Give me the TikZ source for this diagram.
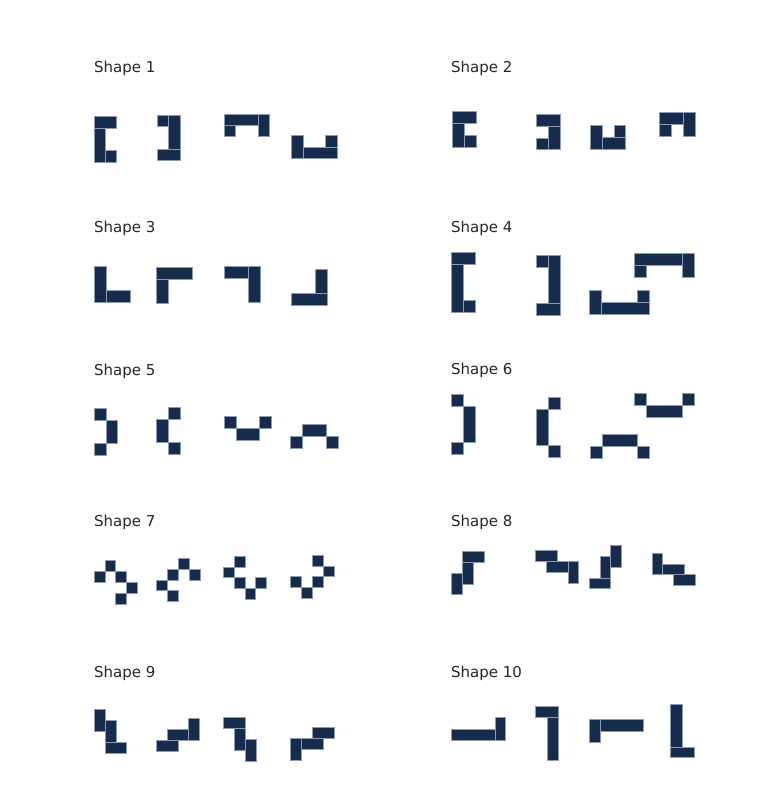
\documentclass[tikz,border=0pt]{standalone}
\usepackage{fontspec}
\setmainfont{DejaVu Sans}
\definecolor{navy}{RGB}{23,43,77}
\definecolor{edgec}{RGB}{140,155,180}
\newcommand\blk[4]{\filldraw[piece] (#1,#2) rectangle ++(#3,#4);}
\newcommand\sq[2]{\filldraw[piece] (#1,#2) rectangle ++(1,1);}
\begin{document}
\begin{tikzpicture}[x=1pt,y=-1pt,
  piece/.style={fill=navy,draw=edgec,line width=0.5pt},
  lbl/.style={anchor=base west,inner sep=0pt,font=\fontsize{15pt}{18pt}\selectfont,text=black!85}]
\useasboundingbox[fill=white] (0,0) rectangle (775,811);
% labels
\node[lbl] (l1) at (94,72) {Shape 1};
\node[lbl] (l2) at (451,72) {Shape 2};
\node[lbl] (l3) at (94,232) {Shape 3};
\node[lbl] (l4) at (451,232) {Shape 4};
\node[lbl] (l5) at (94,375) {Shape 5};
\node[lbl] (l6) at (451,374) {Shape 6};
\node[lbl] (l7) at (94,526) {Shape 7};
\node[lbl] (l8) at (451,526) {Shape 8};
\node[lbl] (l9) at (94,677) {Shape 9};
\node[lbl] (l10) at (451,677) {Shape 10};
% Shape 1
\begin{scope}[shift={(94pt,-116.7pt)},x=11.3pt,y=-11.3pt]
\blk{0}{0}{2}{1}\blk{0}{1}{1}{3}\blk{1}{3}{1}{1}
\end{scope}
\begin{scope}[shift={(157.3pt,-115pt)},x=11.3pt,y=-11.3pt]
\blk{0}{0}{1}{1}\blk{1}{0}{1}{3}\blk{0}{3}{2}{1}
\end{scope}
\begin{scope}[shift={(224.3pt,-114pt)},x=11.3pt,y=-11.3pt]
\blk{0}{0}{3}{1}\blk{3}{0}{1}{2}\blk{0}{1}{1}{1}
\end{scope}
\begin{scope}[shift={(291.7pt,-135.7pt)},x=11.3pt,y=-11.3pt]
\blk{0}{0}{1}{2}\blk{3}{0}{1}{1}\blk{1}{1}{3}{1}
\end{scope}
% Shape 2
\begin{scope}[shift={(452.3pt,-111.7pt)},x=11.9pt,y=-11.9pt]
\blk{0}{0}{2}{1}\blk{0}{1}{1}{2}\blk{1}{2}{1}{1}
\end{scope}
\begin{scope}[shift={(536.7pt,-114pt)},x=11.9pt,y=-11.9pt]
\blk{0}{0}{2}{1}\blk{1}{1}{1}{2}\blk{0}{2}{1}{1}
\end{scope}
\begin{scope}[shift={(590pt,-125pt)},x=11.9pt,y=-11.9pt]
\blk{0}{0}{1}{2}\blk{2}{0}{1}{1}\blk{1}{1}{2}{1}
\end{scope}
\begin{scope}[shift={(659.3pt,-112.7pt)},x=11.9pt,y=-11.9pt]
\blk{0}{0}{2}{1}\blk{2}{0}{1}{2}\blk{0}{1}{1}{1}
\end{scope}
% Shape 3
\begin{scope}[shift={(94pt,-266.7pt)},x=12pt,y=-12pt]
\blk{0}{0}{1}{3}\blk{1}{2}{2}{1}
\end{scope}
\begin{scope}[shift={(156.7pt,-267.7pt)},x=12pt,y=-12pt]
\blk{0}{0}{3}{1}\blk{0}{1}{1}{2}
\end{scope}
\begin{scope}[shift={(224.3pt,-266.7pt)},x=12pt,y=-12pt]
\blk{0}{0}{2}{1}\blk{2}{0}{1}{3}
\end{scope}
\begin{scope}[shift={(291pt,-269pt)},x=12pt,y=-12pt]
\blk{2}{0}{1}{2}\blk{0}{2}{3}{1}
\end{scope}
% Shape 4
\begin{scope}[shift={(451.7pt,-252.3pt)},x=12pt,y=-12pt]
\blk{0}{0}{2}{1}\blk{0}{1}{1}{4}\blk{1}{4}{1}{1}
\end{scope}
\begin{scope}[shift={(536.7pt,-255.7pt)},x=12pt,y=-12pt]
\blk{0}{0}{1}{1}\blk{1}{0}{1}{4}\blk{0}{4}{2}{1}
\end{scope}
\begin{scope}[shift={(589.3pt,-290.7pt)},x=12pt,y=-12pt]
\blk{0}{0}{1}{2}\blk{4}{0}{1}{1}\blk{1}{1}{4}{1}
\end{scope}
\begin{scope}[shift={(634.3pt,-253.3pt)},x=12pt,y=-12pt]
\blk{0}{0}{4}{1}\blk{4}{0}{1}{2}\blk{0}{1}{1}{1}
\end{scope}
% Shape 5
\begin{scope}[shift={(94pt,-408.3pt)},x=11.8pt,y=-11.8pt]
\blk{0}{0}{1}{1}\blk{1}{1}{1}{2}\blk{0}{3}{1}{1}
\end{scope}
\begin{scope}[shift={(156.7pt,-407.3pt)},x=11.8pt,y=-11.8pt]
\blk{1}{0}{1}{1}\blk{0}{1}{1}{2}\blk{1}{3}{1}{1}
\end{scope}
\begin{scope}[shift={(224pt,-416.7pt)},x=11.8pt,y=-11.8pt]
\blk{0}{0}{1}{1}\blk{1}{1}{2}{1}\blk{3}{0}{1}{1}
\end{scope}
\begin{scope}[shift={(290.7pt,-424.3pt)},x=11.8pt,y=-11.8pt]
\blk{1}{0}{2}{1}\blk{0}{1}{1}{1}\blk{3}{1}{1}{1}
\end{scope}
% Shape 6
\begin{scope}[shift={(451.7pt,-394.3pt)},x=11.9pt,y=-11.9pt]
\blk{0}{0}{1}{1}\blk{1}{1}{1}{3}\blk{0}{4}{1}{1}
\end{scope}
\begin{scope}[shift={(536pt,-397.7pt)},x=11.9pt,y=-11.9pt]
\blk{1}{0}{1}{1}\blk{0}{1}{1}{3}\blk{1}{4}{1}{1}
\end{scope}
\begin{scope}[shift={(590pt,-434pt)},x=11.9pt,y=-11.9pt]
\blk{1}{0}{3}{1}\blk{0}{1}{1}{1}\blk{4}{1}{1}{1}
\end{scope}
\begin{scope}[shift={(634.3pt,-393.3pt)},x=11.9pt,y=-11.9pt]
\blk{0}{0}{1}{1}\blk{1}{1}{3}{1}\blk{4}{0}{1}{1}
\end{scope}
% Shape 7
\begin{scope}[shift={(94pt,-560.7pt)},x=10.8pt,y=-10.8pt]
\sq{1}{0}\sq{0}{1}\sq{2}{1}\sq{3}{2}\sq{2}{3}
\end{scope}
\begin{scope}[shift={(156.7pt,-558.3pt)},x=10.8pt,y=-10.8pt]
\sq{2}{0}\sq{1}{1}\sq{3}{1}\sq{0}{2}\sq{1}{3}
\end{scope}
\begin{scope}[shift={(223.3pt,-556pt)},x=10.8pt,y=-10.8pt]
\sq{1}{0}\sq{0}{1}\sq{1}{2}\sq{3}{2}\sq{2}{3}
\end{scope}
\begin{scope}[shift={(290.7pt,-555pt)},x=10.8pt,y=-10.8pt]
\sq{2}{0}\sq{3}{1}\sq{2}{2}\sq{0}{2}\sq{1}{3}
\end{scope}
% Shape 8
\begin{scope}[shift={(451.7pt,-551.7pt)},x=10.7pt,y=-10.7pt]
\blk{1}{0}{2}{1}\blk{1}{1}{1}{2}\blk{0}{2}{1}{2}
\end{scope}
\begin{scope}[shift={(535.7pt,-550.7pt)},x=10.7pt,y=-10.7pt]
\blk{0}{0}{2}{1}\blk{1}{1}{2}{1}\blk{3}{1}{1}{2}
\end{scope}
\begin{scope}[shift={(589.3pt,-545.7pt)},x=10.7pt,y=-10.7pt]
\blk{2}{0}{1}{2}\blk{1}{1}{1}{2}\blk{0}{3}{2}{1}
\end{scope}
\begin{scope}[shift={(652pt,-553.3pt)},x=10.7pt,y=-10.7pt]
\blk{0}{0}{1}{2}\blk{1}{1}{2}{1}\blk{2}{2}{2}{1}
\end{scope}
% Shape 9
\begin{scope}[shift={(94pt,-709.3pt)},x=10.9pt,y=-10.9pt]
\blk{0}{0}{1}{2}\blk{1}{1}{1}{2}\blk{1}{3}{2}{1}
\end{scope}
\begin{scope}[shift={(156pt,-718.3pt)},x=10.9pt,y=-10.9pt]
\blk{3}{0}{1}{2}\blk{1}{1}{2}{1}\blk{0}{2}{2}{1}
\end{scope}
\begin{scope}[shift={(223.3pt,-717.3pt)},x=10.9pt,y=-10.9pt]
\blk{0}{0}{2}{1}\blk{1}{1}{1}{2}\blk{2}{2}{1}{2}
\end{scope}
\begin{scope}[shift={(290.7pt,-727.3pt)},x=10.9pt,y=-10.9pt]
\blk{2}{0}{2}{1}\blk{1}{1}{2}{1}\blk{0}{1}{1}{2}
\end{scope}
% Shape 10
\begin{scope}[shift={(451.7pt,-717.7pt)},x=10.8pt,y=-11.5pt]
\blk{0}{1}{4}{1}\blk{4}{0}{1}{2}
\end{scope}
\begin{scope}[shift={(535.7pt,-706.7pt)},x=11.5pt,y=-10.8pt]
\blk{0}{0}{2}{1}\blk{1}{1}{1}{4}
\end{scope}
\begin{scope}[shift={(589pt,-719pt)},x=10.8pt,y=-11.8pt]
\blk{0}{0}{1}{2}\blk{1}{0}{4}{1}
\end{scope}
\begin{scope}[shift={(670.7pt,-704pt)},x=11.8pt,y=-10.7pt]
\blk{0}{0}{1}{4}\blk{0}{4}{2}{1}
\end{scope}
\end{tikzpicture}
\end{document}
